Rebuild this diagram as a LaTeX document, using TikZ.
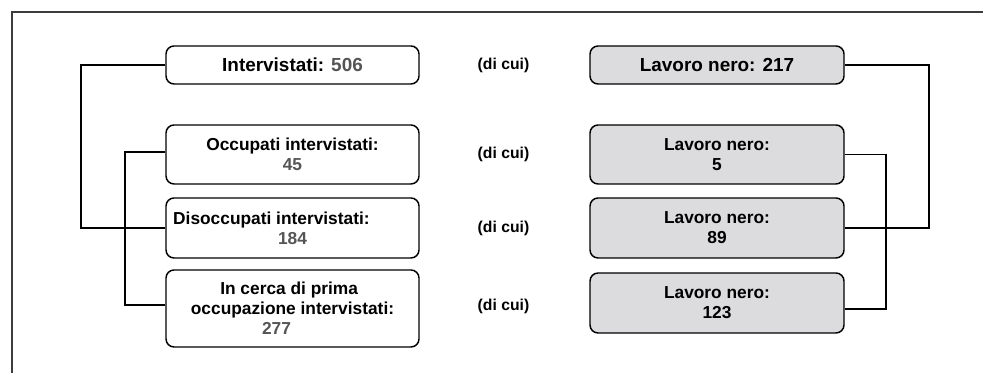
\documentclass[tikz,border=0pt]{standalone}
\usepackage{fontspec}
\setmainfont{Liberation Sans}
\definecolor{numgray}{RGB}{85,85,85}
\definecolor{boxgray}{RGB}{220,220,222}
\definecolor{framegray}{RGB}{60,60,60}
\begin{document}
\begin{tikzpicture}[x=0.75pt,y=-0.75pt,
  box/.style={draw=black, line width=1.1pt, rounded corners=6pt, inner sep=0pt,
    align=center, font=\bfseries\fontsize{13}{15}\selectfont},
  bigtext/.style={font=\bfseries\fontsize{14.2}{16}\selectfont},
  leftbox/.style={box, minimum width=189.75pt},
  rightbox/.style={box, fill=boxgray, minimum width=190.5pt},
  note/.style={font=\bfseries\fontsize{11.8}{14}\selectfont, inner sep=0pt},
  wire/.style={line width=1.1pt, draw=black}]
\useasboundingbox (0,0) rectangle (983,373);
% outer frame (top and left edges)
\draw[framegray, line width=1.5pt] (12,373) -- (12,12) -- (983,12);

% left column
\node[leftbox, bigtext, minimum height=28.5pt] (int) at (292.5,65)
  {Intervistati: \textcolor{numgray}{506}};
\node[leftbox, minimum height=44.25pt] (occ) at (292.5,154.5)
  {Occupati intervistati:\\\textcolor{numgray}{45}};
\node[leftbox, minimum height=45pt] (dis) at (292.5,228)
  {\makebox[179pt][l]{Disoccupati intervistati:}\\\textcolor{numgray}{184}};
\node[leftbox, minimum height=57.75pt] (cer) at (292.5,308.5)
  {In cerca di prima\hspace*{5pt}\\occupazione intervistati:\hspace*{16.5pt}\\\textcolor{numgray}{277}\hspace*{24pt}};

% middle labels
\node[note] (d1) at (503.5,65) {(di cui)};
\node[note] (d2) at (503.5,154) {(di cui)};
\node[note] (d3) at (503.5,228) {(di cui)};
\node[note] (d4) at (503.5,306) {(di cui)};

% right column
\node[rightbox, bigtext, minimum height=28.5pt] (l217) at (717,65) {Lavoro nero: 217};
\node[rightbox, minimum height=44.25pt] (l5) at (717,154.5) {Lavoro nero:\\5};
\node[rightbox, minimum height=45pt] (l89) at (717,228) {Lavoro nero:\\89};
\node[rightbox, minimum height=45pt] (l123) at (717,303) {Lavoro nero:\\123};

% bracket rails
\coordinate (lo) at (81,0);
\coordinate (li) at (125,0);
\coordinate (ro) at (929,0);
\coordinate (ri) at (886,0);

\draw[wire] (int.west) -- (int.west -| lo) |- (dis.west);
\draw[wire] ([yshift=1.9pt]occ.west) -- ([yshift=1.9pt]occ.west -| li) |- ([yshift=2.6pt]cer.west);
\draw[wire] (l217.east) -- (l217.east -| ro) |- (l89.east);
\draw[wire] (l5.east) -- (l5.east -| ri) |- ([yshift=-4.5pt]l123.east);
\end{tikzpicture}
\end{document}
